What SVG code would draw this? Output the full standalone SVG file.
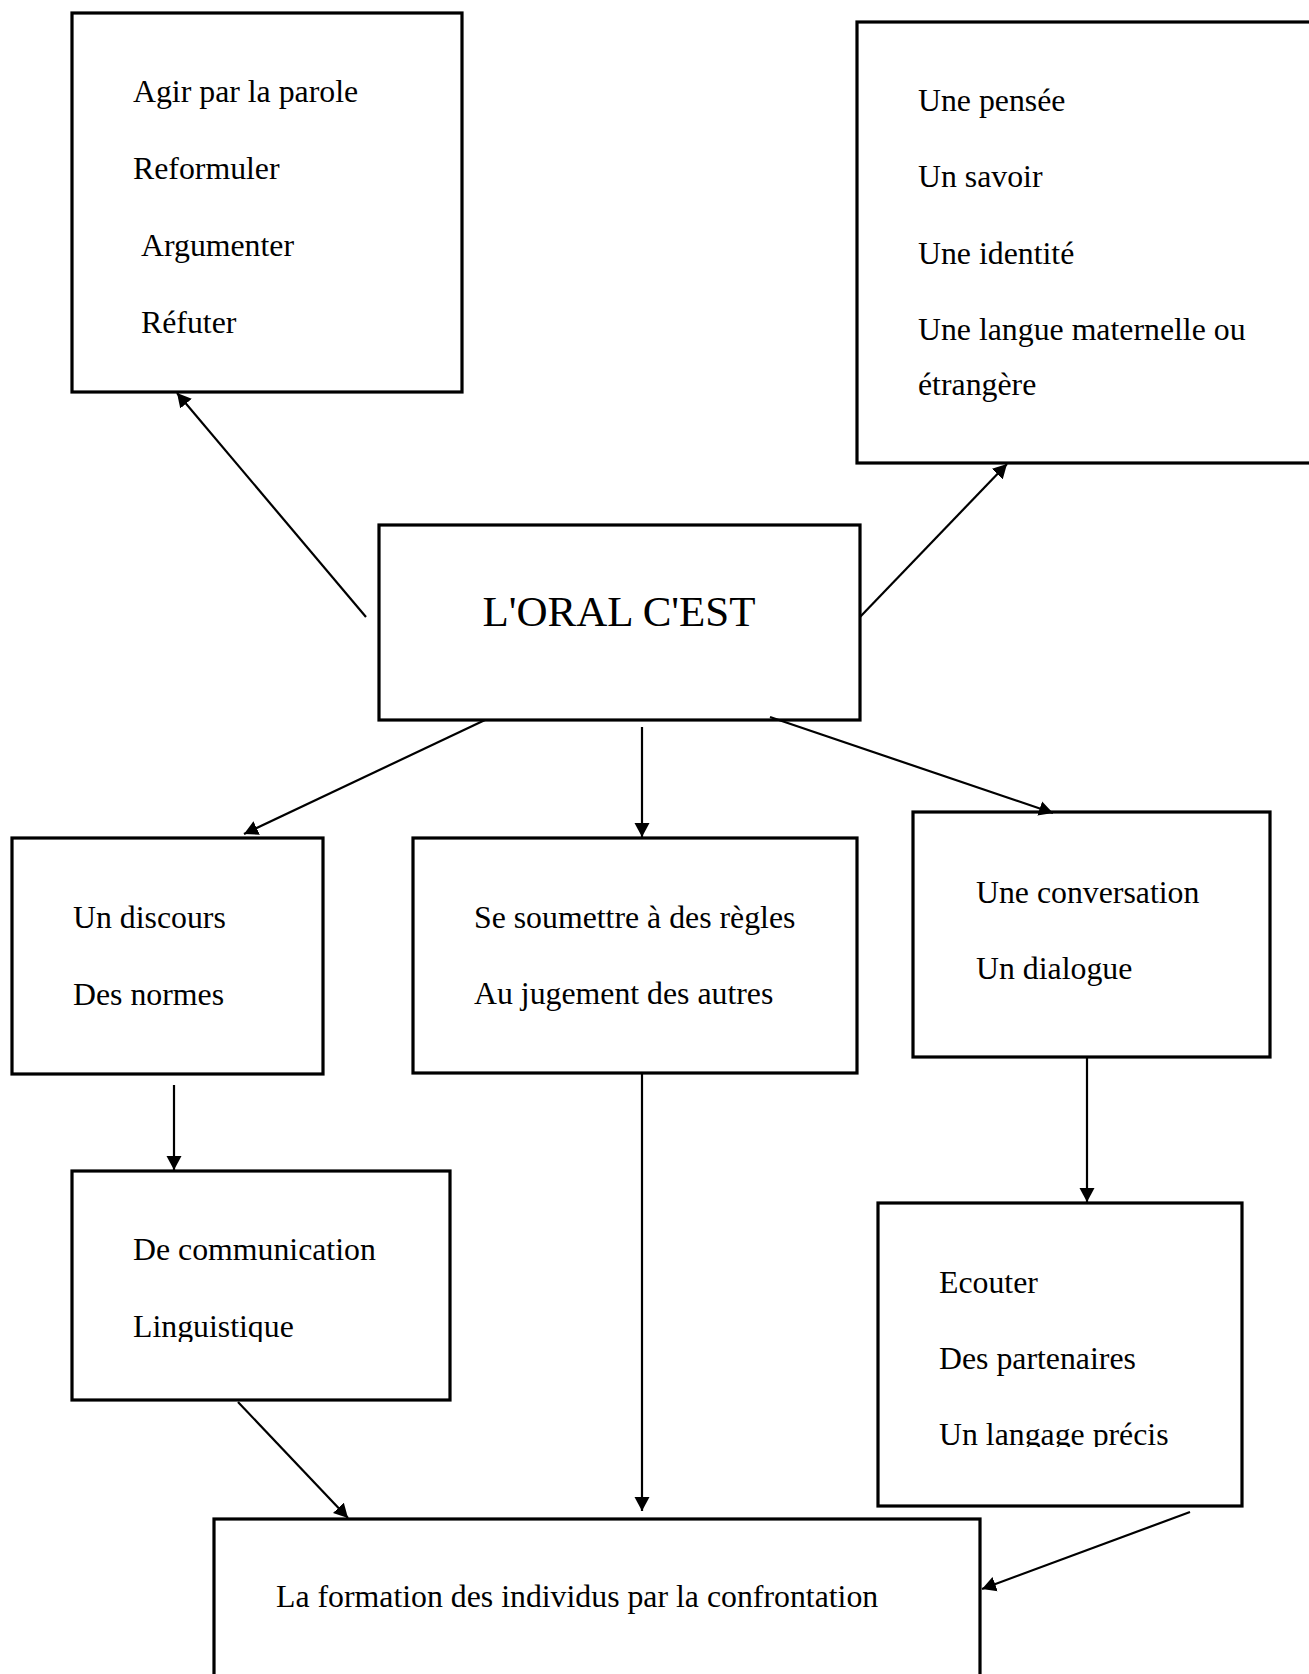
<svg xmlns="http://www.w3.org/2000/svg" width="1309" height="1674" viewBox="0 0 1309 1674">
<style>
.box{fill:#fff;stroke:#000;stroke-width:3.2}
.t{font-family:"Liberation Serif","Times New Roman",serif;font-size:31.8px;fill:#000}
.big{font-size:43px}
.c{stroke:#000;stroke-width:2.2;fill:none}
</style>
<defs>
<marker id="ah" markerUnits="userSpaceOnUse" markerWidth="15" markerHeight="16" refX="14" refY="8" orient="auto">
<path d="M0,0.5 L14,8 L0,15.5 z" fill="#000"/>
</marker>
<clipPath id="clipL"><rect x="0" y="1100" width="500" height="242"/></clipPath>
<clipPath id="clipU"><rect x="870" y="1200" width="400" height="247"/></clipPath>
</defs>
<rect width="1309" height="1674" fill="#fff"/>

<g id="n-actions">
<rect class="box" x="72" y="13" width="390" height="379"/>
<text class="t" x="133" y="102">Agir par la parole</text>
<text class="t" x="133" y="179">Reformuler</text>
<text class="t" x="141" y="256">Argumenter</text>
<text class="t" x="141" y="333">Réfuter</text>
</g>

<g id="n-pensee">
<rect class="box" x="857" y="22" width="470" height="441"/>
<text class="t" x="918" y="111">Une pensée</text>
<text class="t" x="918" y="187">Un savoir</text>
<text class="t" x="918" y="264">Une identité</text>
<text class="t" x="918" y="340">Une langue maternelle ou</text>
<text class="t" x="918" y="395">étrangère</text>
</g>

<g id="n-oral">
<rect class="box" x="379" y="525" width="481" height="195"/>
<text class="t big" x="619" y="626" text-anchor="middle">L'ORAL C'EST</text>
</g>

<g id="n-discours">
<rect class="box" x="12" y="838" width="311" height="236"/>
<text class="t" x="73" y="928">Un discours</text>
<text class="t" x="73" y="1005">Des normes</text>
</g>

<g id="n-regles">
<rect class="box" x="413" y="838" width="444" height="235"/>
<text class="t" x="474" y="928">Se soumettre à des règles</text>
<text class="t" x="474" y="1004">Au jugement des autres</text>
</g>

<g id="n-conversation">
<rect class="box" x="913" y="812" width="357" height="245"/>
<text class="t" x="976" y="903">Une conversation</text>
<text class="t" x="976" y="979">Un dialogue</text>
</g>

<g id="n-communication">
<rect class="box" x="72" y="1171" width="378" height="229"/>
<text class="t" x="133" y="1260">De communication</text>
<text class="t" x="133" y="1337" clip-path="url(#clipL)">Linguistique</text>
</g>

<g id="n-ecouter">
<rect class="box" x="878" y="1203" width="364" height="303"/>
<text class="t" x="939" y="1293">Ecouter</text>
<text class="t" x="939" y="1369">Des partenaires</text>
<text class="t" x="939" y="1445" clip-path="url(#clipU)">Un langage précis</text>
</g>

<g id="n-formation">
<rect class="box" x="214" y="1519" width="766" height="200"/>
<text class="t" x="276" y="1607">La formation des individus par la confrontation</text>
</g>

<g id="connectors">
<line class="c" x1="366" y1="617" x2="177" y2="393" marker-end="url(#ah)"/>
<line class="c" x1="860" y1="617" x2="1007" y2="464" marker-end="url(#ah)"/>
<line class="c" x1="485" y1="720" x2="244" y2="834" marker-end="url(#ah)"/>
<line class="c" x1="642" y1="727" x2="642" y2="837" marker-end="url(#ah)"/>
<line class="c" x1="770" y1="717" x2="1053" y2="813" marker-end="url(#ah)"/>
<line class="c" x1="174" y1="1085" x2="174" y2="1170" marker-end="url(#ah)"/>
<line class="c" x1="1087" y1="1058" x2="1087" y2="1202" marker-end="url(#ah)"/>
<line class="c" x1="642" y1="1074" x2="642" y2="1511" marker-end="url(#ah)"/>
<line class="c" x1="238" y1="1402" x2="348" y2="1518" marker-end="url(#ah)"/>
<line class="c" x1="1190" y1="1512" x2="982" y2="1589" marker-end="url(#ah)"/>
</g>
</svg>
